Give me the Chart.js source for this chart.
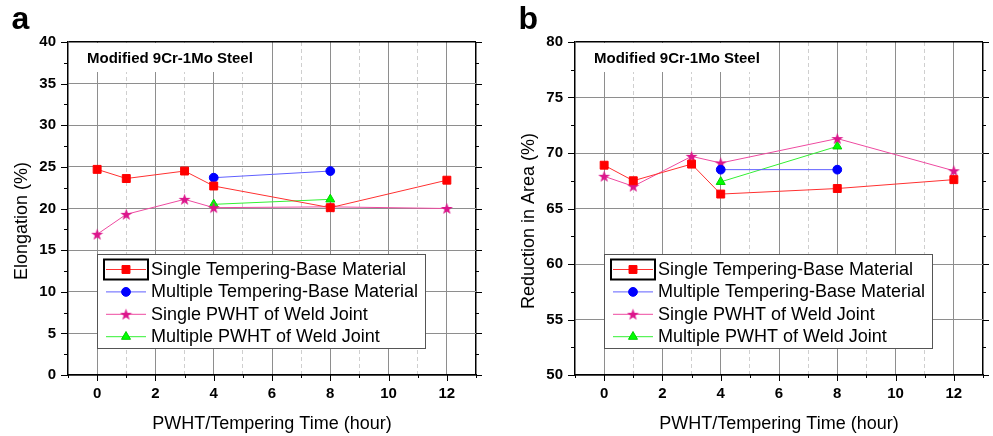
<!DOCTYPE html>
<html><head><meta charset="utf-8">
<script src="https://cdn.jsdelivr.net/npm/chart.js@4/dist/chart.umd.min.js"></script>
<style>
html,body{margin:0;padding:0;background:#fff;width:993px;height:436px;overflow:hidden}
.p{position:absolute;top:0;width:486px;height:436px}
</style></head><body>
<div class="p" style="left:0"><canvas id="ca" width="486" height="436"></canvas></div>
<div class="p" style="left:507px"><canvas id="cb" width="486" height="436"></canvas></div>
<script>
// ---- data ----
const seriesLabels = ['Single Tempering-Base Material','Multiple Tempering-Base Material','Single PWHT of Weld Joint','Multiple PWHT of Weld Joint'];
const hoursSingleTemper = [0, 1, 3, 4, 8, 12];
const hoursMultiTemper  = [4, 8];
const hoursSinglePwht   = [0, 1, 3, 4, 8, 12];
const hoursMultiPwht    = [4, 8];

const elongSingleTemper = [24.7, 23.6, 24.5, 22.7, 20.1, 23.4];
const elongMultiTemper  = [23.7, 24.5];
const elongSinglePwht   = [16.9, 19.3, 21.1, 20.1, 20.2, 20.0];
const elongMultiPwht    = [20.5, 21.1];

const raSingleTemper = [68.9, 67.5, 69.0, 66.3, 66.8, 67.6];
const raMultiTemper  = [68.5, 68.5];
const raSinglePwht   = [67.9, 67.0, 69.7, 69.1, 71.3, 68.4];
const raMultiPwht    = [67.4, 70.6];

const xTickLabels = ['0','2','4','6','8','10','12'];
const elongTickLabels = ['0','5','10','15','20','25','30','35','40'];
const raTickLabels = ['50','55','60','65','70','75','80'];

// ---- styling ----
const FONT = "'Liberation Sans', Arial, Helvetica, sans-serif";

function starImage(color){
  const c = document.createElement('canvas'); c.width = 13; c.height = 13;
  const g = c.getContext('2d'); g.fillStyle = color; g.beginPath();
  for (let i = 0; i < 10; i++) {
    const r = (i % 2) ? 2.5 : 6.3;
    const a = -Math.PI/2 + i*Math.PI/5;
    g.lineTo(6.5 + r*Math.cos(a), 7 + r*Math.sin(a));
  }
  g.closePath(); g.fill(); return c;
}
const STAR = starImage('#dc168c');

function pts(xs, ys){ return xs.map((h,i)=>({x:h, y:ys[i]})); }

function datasets(a,b,c,d){
  return [
    {label:seriesLabels[0], data:pts(hoursSingleTemper,a), borderColor:'#ff3030', backgroundColor:'#ff0000', pointBorderColor:'#ff0000', pointStyle:'rect', pointRadius:5.6, borderWidth:1, pointBorderWidth:1},
    {label:seriesLabels[1], data:pts(hoursMultiTemper,b), borderColor:'#6060ff', backgroundColor:'#0000ff', pointBorderColor:'#0000ff', pointStyle:'circle', pointRadius:4.4, borderWidth:1, pointBorderWidth:1},
    {label:seriesLabels[2], data:pts(hoursSinglePwht,c), borderColor:'#ee4aa0', backgroundColor:'#dc168c', pointBorderColor:'#dc168c', pointStyle:STAR, pointRadius:6, borderWidth:1, pointBorderWidth:1},
    {label:seriesLabels[3], data:pts(hoursMultiPwht,d), borderColor:'#33f033', backgroundColor:'#00ff00', pointBorderColor:'#00d000', pointStyle:'triangle', pointRadius:5.2, borderWidth:1, pointBorderWidth:1}
  ];
}

function decor(letter, yTitle, note){
  return {
    id:'decor'+letter,
    beforeDatasetsDraw(chart){
      const c = chart.ctx, a = chart.chartArea;
      c.save();
      c.fillStyle = '#fff'; c.fillRect(a.left+1, a.top+1, 192, 29);
      c.fillStyle = '#000'; c.font = 'bold 15px '+FONT; c.textBaseline='alphabetic'; c.textAlign='left';
      c.fillText(note, 87, 63);
      c.restore();
    },
    afterDatasetsDraw(chart){
      const c = chart.ctx;
      c.save();
      // legend box
      c.fillStyle = '#fff'; c.fillRect(97, 254, 328, 94);
      c.strokeStyle = '#555'; c.lineWidth = 1; c.strokeRect(97.5, 254.5, 328, 94);
      chart.data.datasets.forEach((ds,i)=>{
        const y = 269.5 + i*22.4;
        c.strokeStyle = ds.borderColor; c.lineWidth = 1;
        c.beginPath(); c.moveTo(106, y); c.lineTo(146, y); c.stroke();
        c.fillStyle = ds.backgroundColor; c.strokeStyle = ds.pointBorderColor;
        Chart.helpers.drawPoint(c, {pointStyle: ds.pointStyle, radius: ds.pointRadius, rotation: 0, borderWidth: 1}, 126, y);
        c.fillStyle = '#000'; c.font = '18px '+FONT; c.textBaseline = 'middle'; c.textAlign='left';
        c.fillText(ds.label, 151, y+0.5);
      });
      c.strokeStyle = '#000'; c.lineWidth = 2; c.strokeRect(104, 259.5, 44, 20);
      c.restore();
    },
    afterDraw(chart){
      const c = chart.ctx, a = chart.chartArea, xs = chart.scales.x, ys = chart.scales.y;
      c.save();
      c.strokeStyle = '#000'; c.lineWidth = 1;
      const ln = (x1,y1,x2,y2)=>{ c.beginPath(); c.moveTo(x1,y1); c.lineTo(x2,y2); c.stroke(); };
      const yStep = 2.5;
      for (let v = ys.min; v <= ys.max + 1e-9; v += yStep) {
        const py = Math.round(ys.getPixelForValue(v)) + 0.5;
        const major = Math.abs(v/5 - Math.round(v/5)) < 1e-6;
        const L = major ? 7 : 4;
        ln(a.left - L, py, a.left, py);
        ln(a.right, py, a.right + (major?6:3), py);
      }
      for (let v = xs.min; v <= xs.max + 1e-9; v += 1) {
        const px = Math.round(xs.getPixelForValue(v)) + 0.5;
        const major = Math.abs(v % 2) < 1e-6;
        ln(px, a.bottom, px, a.bottom + (major ? 6 : 3));
      }
      // panel letter
      c.fillStyle = '#000'; c.textAlign = 'left'; c.textBaseline = 'alphabetic';
      c.font = 'bold 32px '+FONT; c.fillText(letter, 11.5, 29);
      // axis titles
      c.font = '18px '+FONT; c.textAlign = 'center';
      c.fillText('PWHT/Tempering Time (hour)', (a.left+a.right)/2, 429);
      c.translate(27, 221); c.rotate(-Math.PI/2);
      c.fillText(yTitle, 0, 0);
      c.restore();
    }
  };
}

function makeChart(id, letter, yTitle, yMin, yMax, yLabels, dsets){
  const isMajorY = v => Math.abs(v/5 - Math.round(v/5)) < 1e-6;
  const isOddInner = v => v > -1 && v < 13 && Math.abs(v%2) === 1;
  return new Chart(document.getElementById(id), {
    type:'line',
    data:{ datasets: dsets },
    options:{
      responsive:false, animation:false, devicePixelRatio:1,
      layout:{ padding:{ left:8, top:42, right:8, bottom:0 } },
      plugins:{ legend:{display:false}, tooltip:{enabled:false} },
      elements:{ line:{ tension:0 } },
      scales:{
        x:{ type:'linear', min:-1, max:13,
            ticks:{ stepSize:1, autoSkip:false, maxRotation:0, padding:10, color:'#000',
                    font:{family:FONT, size:15, weight:'bold'},
                    callback:v => xTickLabels.includes(String(v)) ? String(v) : '' },
            grid:{ drawTicks:false,
                   color: ctx => { const v = ctx.tick ? ctx.tick.value : 0; if (v === 13) return '#000'; if (v === -1) return 'rgba(0,0,0,0)'; return isOddInner(v) ? '#cfcfcf' : '#8e8e8e'; },
                   lineWidth: ctx => (ctx.tick && ctx.tick.value === 13) ? 1.5 : 1 },
            border:{ display:true, color:'#000', width:1.5,
                     dash: ctx => (ctx.tick && isOddInner(ctx.tick.value)) ? [4,3] : [] },
            afterFit: s => { s.height = 61; } },
        y:{ type:'linear', min:yMin, max:yMax,
            ticks:{ stepSize:2.5, autoSkip:false, padding:12, color:'#000',
                    font:{family:FONT, size:15, weight:'bold'},
                    callback:v => (isMajorY(v) && yLabels.includes(String(v))) ? String(v) : '' },
            grid:{ drawTicks:false,
                   color: ctx => { const v = ctx.tick ? ctx.tick.value : 0; if (v === yMax) return '#000'; return isMajorY(v) ? '#8e8e8e' : 'rgba(0,0,0,0)'; },
                   lineWidth: ctx => (ctx.tick && ctx.tick.value === yMax) ? 1.5 : 1 },
            border:{ display:true, color:'#000', width:1.5 },
            afterFit: s => { s.width = 60; } }
      }
    },
    plugins:[ decor(letter, yTitle, 'Modified 9Cr-1Mo Steel') ]
  });
}

makeChart('ca', 'a', 'Elongation (%)', 0, 40, elongTickLabels,
  datasets(elongSingleTemper, elongMultiTemper, elongSinglePwht, elongMultiPwht));
makeChart('cb', 'b', 'Reduction in Area (%)', 50, 80, raTickLabels,
  datasets(raSingleTemper, raMultiTemper, raSinglePwht, raMultiPwht));
</script>
</body></html>
